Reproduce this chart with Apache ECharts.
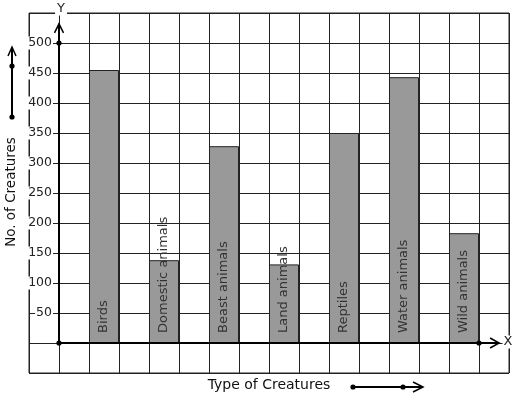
<!DOCTYPE html>
<html><head><meta charset="utf-8">
<script src="https://cdn.jsdelivr.net/npm/echarts@6/dist/echarts.min.js"></script>
<style>html,body{margin:0;padding:0;background:#fff}#c{width:517px;height:399px}</style>
</head><body><div id="c"></div>
<script>
const categories = ['Birds', 'Domestic animals', 'Beast animals', 'Land animals', 'Reptiles', 'Water animals', 'Wild animals'];
const creatureCounts = [455, 138, 328, 131, 350, 443, 183];
const yTickLabels = [50, 100, 150, 200, 250, 300, 350, 400, 450, 500];
const xAxisTitle = 'Type of Creatures';
const yAxisTitle = 'No. of Creatures';

const FONT = 'DejaVu Sans';
const GRID_COLOR = '#222';
const chart = echarts.init(document.getElementById('c'), null, { renderer: 'canvas' });

// each creature occupies one grid cell, with an empty cell between creatures
const barData = creatureCounts.map((v, i) => [1.5 + 2 * i, v]);

chart.setOption({
  animation: false,
  backgroundColor: '#fff',
  grid: { left: 29, top: 13, width: 480, height: 360, show: true, borderColor: GRID_COLOR, borderWidth: 1, containLabel: false, outerBoundsMode: 'none' },
  xAxis: {
    type: 'value', min: -1, max: 15, interval: 1,
    axisLine: { show: false, onZero: false }, axisTick: { show: false }, axisLabel: { show: false },
    splitLine: { show: true, lineStyle: { color: GRID_COLOR, width: 1 } }
  },
  yAxis: {
    type: 'value', min: -50, max: 550, interval: 50, offset: -30,
    axisLine: { show: false, onZero: false },
    axisTick: { show: false },
    axisLabel: {
      margin: 6, color: '#222', fontSize: 12.5, fontFamily: FONT,
      backgroundColor: '#fff', padding: [0, 1, 0, 1],
      formatter: v => yTickLabels.includes(v) ? String(v) : ''
    },
    splitLine: { show: true, lineStyle: { color: GRID_COLOR, width: 1 } }
  },
  series: [{
    type: 'bar', data: barData, barWidth: 30,
    itemStyle: { color: '#999999', borderColor: '#222', borderWidth: 1 },
    label: {
      show: true, position: 'insideBottom', rotate: 90, align: 'left', verticalAlign: 'middle',
      distance: 10, color: '#333', fontSize: 13, fontFamily: FONT,
      formatter: p => categories[p.dataIndex]
    }
  }]
});

// axis decorations (arrows, dots, titles) placed through the chart's own scales
const px = (x, y) => chart.convertToPixel({ gridIndex: 0 }, [x, y]);
const o = px(0, 0);
const yTop = px(0, 532);
const y500 = px(0, 500);
const xEnd = px(14.67, 0);
const x14 = px(14, 0);
const stroke = { stroke: '#000', lineWidth: 2 };
const thin = { stroke: '#000', lineWidth: 1.5, fill: null };
const dot = (x, y) => ({ type: 'circle', shape: { cx: x, cy: y, r: 2.6 }, style: { fill: '#000' }, z: 100 });
const line = (x1, y1, x2, y2, st) => ({ type: 'line', shape: { x1, y1, x2, y2 }, style: st || stroke, z: 100 });
const poly = pts => ({ type: 'polyline', shape: { points: pts }, style: thin, z: 100 });

chart.setOption({
  graphic: [
    // Y axis
    line(o[0], o[1], yTop[0], yTop[1]),
    poly([[yTop[0] - 4.5, yTop[1] + 9], [yTop[0], yTop[1]], [yTop[0] + 4.5, yTop[1] + 9]]),
    dot(o[0], o[1]), dot(y500[0], y500[1]),
    // X axis
    line(o[0], o[1], xEnd[0], xEnd[1]),
    poly([[xEnd[0] - 9, xEnd[1] - 5], [xEnd[0], xEnd[1]], [xEnd[0] - 9, xEnd[1] + 5]]),
    dot(x14[0], x14[1]),
    // axis letters
    { type: 'text', x: yTop[0] + 2, y: 9, z: 101, style: { text: 'Y', font: '13px "DejaVu Sans"', fill: '#222', align: 'center', verticalAlign: 'middle', backgroundColor: '#fff', padding: [0, 2, 0, 2] } },
    { type: 'text', x: 508, y: o[1] - 1, z: 101, style: { text: 'X', font: '13px "DejaVu Sans"', fill: '#222', align: 'center', verticalAlign: 'middle', backgroundColor: '#fff', padding: [0, 1, 0, 1] } },
    // axis titles
    { type: 'text', x: 269, y: 385, z: 101, style: { text: xAxisTitle, font: '14px "DejaVu Sans"', fill: '#111', align: 'center', verticalAlign: 'middle' } },
    { type: 'text', x: 11, y: 192, rotation: Math.PI / 2, z: 101, style: { text: yAxisTitle, font: '13.5px "DejaVu Sans"', fill: '#111', align: 'center', verticalAlign: 'middle' } },
    // left arrow decoration
    line(12, 117, 12, 48),
    poly([[8, 56], [12, 47], [16, 56]]),
    dot(12, 66), dot(12, 117),
    // bottom arrow decoration
    line(353, 387, 422, 387),
    poly([[413, 382], [423, 387], [413, 392]]),
    dot(353, 387), dot(403, 387)
  ]
});
</script>
</body></html>
